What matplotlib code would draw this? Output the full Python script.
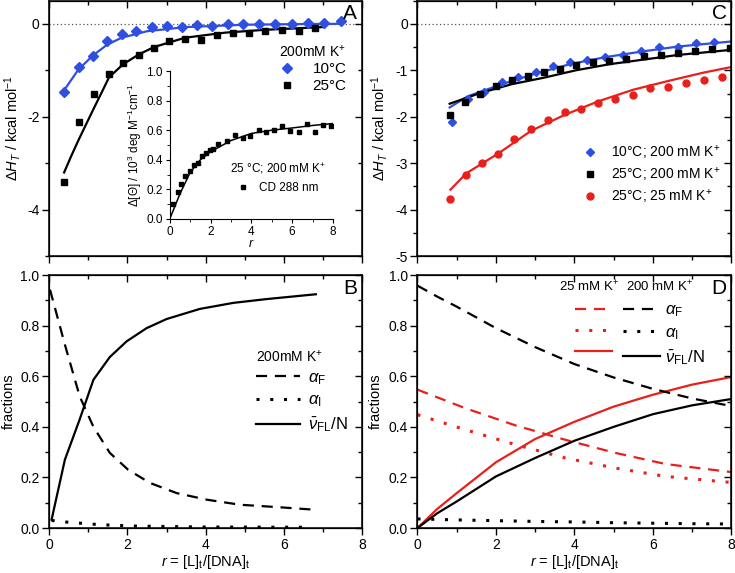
import numpy as np
import matplotlib
matplotlib.use('Agg')
import matplotlib.pyplot as plt
from matplotlib.ticker import MultipleLocator

plt.rcParams['font.family'] = ['Liberation Sans', 'DejaVu Sans']
plt.rcParams['mathtext.fontset'] = 'custom'
plt.rcParams['mathtext.rm'] = 'Liberation Sans'
plt.rcParams['mathtext.it'] = 'Liberation Sans:italic'
plt.rcParams['mathtext.bf'] = 'Liberation Sans:bold'
plt.rcParams['axes.unicode_minus'] = False

# ---------------- panel A : ITC, 200 mM K+ ----------------
rA_10 = [0.38, 0.75, 1.12, 1.48, 1.85, 2.22, 2.62, 3.0, 3.39, 3.77, 4.16, 4.56,
         4.96, 5.37, 5.78, 6.21, 6.62, 7.02, 7.47]
hA_10 = [-1.46, -0.94, -0.70, -0.38, -0.22, -0.15, -0.07, -0.04, -0.06, -0.03,
         -0.04, -0.01, -0.01, 0.0, 0.0, 0.0, 0.01, 0.01, 0.05]
rA_25 = [0.38, 0.75, 1.14, 1.53, 1.89, 2.29, 2.68, 3.07, 3.47, 3.87, 4.28, 4.69,
         5.10, 5.52, 5.95, 6.38, 6.80]
hA_25 = [-3.41, -2.12, -1.51, -1.08, -0.84, -0.67, -0.51, -0.38, -0.33, -0.34,
         -0.24, -0.20, -0.20, -0.16, -0.13, -0.15, -0.09]
fitA_10_r = [0.38, 0.75, 1.12, 1.48, 1.85, 2.5, 3.5, 5.0, 6.5, 7.5]
fitA_10_h = [-1.43, -0.98, -0.68, -0.45, -0.30, -0.16, -0.07, -0.02, -0.005, 0.0]
fitA_25_r = [0.38, 0.56, 0.75, 0.95, 1.14, 1.34, 1.53, 1.89, 2.29, 2.68, 3.47, 4.5, 5.5, 7.0]
fitA_25_h = [-3.20, -2.85, -2.50, -2.15, -1.82, -1.48, -1.15, -0.87, -0.66, -0.50, -0.30,
             -0.19, -0.13, -0.07]

# inset : CD 288 nm
r_cd = [0.16, 0.38, 0.57, 0.77, 0.97, 1.18, 1.38, 1.58, 1.77, 1.97, 2.13, 2.38,
        2.79, 3.2, 3.58, 3.94, 4.35, 4.73, 5.12, 5.52, 5.91, 6.32, 6.73, 7.11,
        7.52, 7.91]
cd = [0.103, 0.18, 0.234, 0.29, 0.324, 0.367, 0.378, 0.428, 0.447, 0.465, 0.476,
      0.506, 0.526, 0.569, 0.546, 0.564, 0.60, 0.587, 0.60, 0.625, 0.596, 0.591,
      0.643, 0.589, 0.636, 0.625]
fit_cd_r = [0.0, 0.5, 1.0, 1.5, 2.0, 3.0, 4.0, 5.0, 6.0, 7.0, 8.0]
fit_cd = [0.0, 0.17, 0.315, 0.40, 0.454, 0.53, 0.578, 0.60, 0.615, 0.632, 0.645]

# ---------------- panel B : fractions, 200 mM K+ ----------------
rB_nu = [0.06, 0.4, 0.78, 1.13, 1.55, 1.98, 2.49, 3.0, 3.85, 4.71, 5.56, 6.82]
B_nu = [0.033, 0.27, 0.43, 0.586, 0.676, 0.738, 0.79, 0.826, 0.866, 0.89, 0.905, 0.924]
rB_aF = [0.02, 0.4, 0.78, 1.13, 1.55, 2.02, 2.58, 3.26, 4.03, 4.88, 5.9, 6.82]
B_aF = [0.942, 0.725, 0.52, 0.40, 0.297, 0.23, 0.178, 0.138, 0.112, 0.092, 0.082, 0.072]
rB_aI = [0.06, 0.4, 1.3, 2.15, 3.85, 6.6]
B_aI = [0.03, 0.024, 0.013, 0.008, 0.004, 0.003]

# ---------------- panel C : ITC ----------------
rC_10 = [0.88, 1.28, 1.70, 2.15, 2.57, 3.02, 3.45, 3.88, 4.33, 4.77, 5.23, 5.69,
         6.15, 6.63, 7.09, 7.56]
hC_10 = [-2.11, -1.62, -1.47, -1.25, -1.15, -1.04, -0.91, -0.83, -0.77, -0.72,
         -0.67, -0.59, -0.50, -0.50, -0.42, -0.40]
rC_25 = [0.82, 1.21, 1.60, 1.99, 2.40, 2.81, 3.22, 3.63, 4.04, 4.46, 4.89, 5.32,
         5.76, 6.20, 6.64, 7.07, 7.51, 7.96]
hC_25 = [-1.96, -1.69, -1.52, -1.34, -1.22, -1.13, -1.04, -0.97, -0.89, -0.83,
         -0.79, -0.75, -0.70, -0.67, -0.63, -0.59, -0.55, -0.52]
rC_25lo = [0.84, 1.24, 1.65, 2.06, 2.47, 2.90, 3.32, 3.75, 4.17, 4.60, 5.04, 5.49,
           5.93, 6.39, 6.83, 7.29, 7.75]
hC_25lo = [-3.78, -3.25, -3.0, -2.80, -2.48, -2.27, -2.06, -1.90, -1.83, -1.71,
           -1.62, -1.53, -1.38, -1.36, -1.27, -1.22, -1.14]
fitC_10_r = [0.82, 1.28, 2.15, 3.02, 3.88, 4.77, 5.69, 6.63, 8.0]
fitC_10_h = [-1.80, -1.56, -1.30, -1.07, -0.87, -0.72, -0.60, -0.49, -0.38]
fitC_25_r = [0.82, 1.6, 2.4, 3.22, 4.04, 4.89, 5.76, 6.64, 8.0]
fitC_25_h = [-1.72, -1.49, -1.30, -1.16, -1.00, -0.87, -0.77, -0.67, -0.56]
fitC_lo_r = [0.84, 1.24, 2.06, 2.90, 3.75, 4.60, 5.49, 6.39, 7.29, 8.0]
fitC_lo_h = [-3.57, -3.22, -2.79, -2.30, -1.96, -1.67, -1.42, -1.23, -1.05, -0.93]

# ---------------- panel D : fractions ----------------
rD = [0, 0.5, 1, 2, 3, 4, 5, 6, 7, 8]
D_nu_25 = [0.0, 0.075, 0.138, 0.26, 0.352, 0.42, 0.48, 0.527, 0.567, 0.597]
D_nu_200 = [0.0, 0.058, 0.105, 0.204, 0.277, 0.345, 0.40, 0.45, 0.485, 0.51]
D_aF_200 = [0.958, 0.915, 0.875, 0.79, 0.715, 0.648, 0.595, 0.55, 0.512, 0.482]
D_aI_200 = [0.036, 0.034, 0.032, 0.029, 0.026, 0.024, 0.021, 0.019, 0.017, 0.016]
rD2 = [0, 1.21, 2.49, 3.76, 5.04, 6.32, 8.0]
D_aF_25 = [0.547, 0.474, 0.406, 0.349, 0.297, 0.253, 0.221]
D_aI_25 = [0.448, 0.389, 0.33, 0.277, 0.237, 0.204, 0.18]

blue = '#2f4fe0'
red = '#e8201c'
dash = (0, (5, 3.5))
dot = (0, (1, 3.5))
FS = 10
aF = r'$\alpha_\mathrm{F}$'
aI = r'$\alpha_\mathrm{I}$'
nuFL = r'$\bar{\nu}_\mathrm{FL}$/N'
xlab = r'$r$ = [L]$_\mathrm{t}$/[DNA]$_\mathrm{t}$'
hlab = r'$\Delta H_T$ / kcal mol$^{-1}$'


def frame(ax):
    ax.tick_params(which='both', direction='out', top=False, right=False,
                   labelsize=FS, pad=2)
    ax.tick_params(which='major', length=5, width=1)
    ax.tick_params(which='minor', length=3, width=1)
    for s in ax.spines.values():
        s.set_linewidth(1.1)
    # inward ticks on top/right
    tw = ax.twinx()
    tw.set_ylim(ax.get_ylim())
    tw.yaxis.set_major_locator(ax.yaxis.get_major_locator())
    tw.yaxis.set_minor_locator(ax.yaxis.get_minor_locator())
    tw.tick_params(which='both', direction='in', labelright=False)
    tw.tick_params(which='major', length=5, width=1)
    tw.tick_params(which='minor', length=3, width=1)
    ty = ax.twiny()
    ty.set_xlim(ax.get_xlim())
    ty.xaxis.set_major_locator(ax.xaxis.get_major_locator())
    ty.xaxis.set_minor_locator(ax.xaxis.get_minor_locator())
    ty.tick_params(which='both', direction='in', labeltop=False)
    ty.tick_params(which='major', length=5, width=1)
    ty.tick_params(which='minor', length=3, width=1)


fig = plt.figure(figsize=(7.35, 5.73), dpi=100)
axA = fig.add_axes([0.067, 0.553, 0.4255, 0.446])
axB = fig.add_axes([0.067, 0.0785, 0.4255, 0.4415])
axC = fig.add_axes([0.568, 0.553, 0.4272, 0.446])
axD = fig.add_axes([0.568, 0.0785, 0.4272, 0.4415])

# ---- A ----
axA.axhline(0, color='#555555', lw=0.9, ls=(0, (1, 2)))
axA.plot(fitA_10_r, fitA_10_h, color=blue, lw=1.6)
axA.plot(fitA_25_r, fitA_25_h, color='black', lw=1.6)
axA.plot(rA_10, hA_10, 'D', color=blue, ms=5, ls='none', label='10°C')
axA.plot(rA_25, hA_25, 's', color='black', ms=5, ls='none', label='25°C')
axA.set_xlim(0, 8)
axA.set_ylim(-5, 0.5)
axA.xaxis.set_major_locator(MultipleLocator(2))
axA.xaxis.set_minor_locator(MultipleLocator(1))
axA.yaxis.set_major_locator(MultipleLocator(2))
axA.yaxis.set_minor_locator(MultipleLocator(1))
axA.set_xticklabels([])
axA.set_ylabel(hlab, fontsize=FS + 0.5, labelpad=3)
axA.legend(loc='upper right', bbox_to_anchor=(0.985, 0.875), frameon=False,
           title=r'200mM K$^{+}$', fontsize=FS + 1, title_fontsize=FS,
           handlelength=1.0, handletextpad=1.2, labelspacing=0.2, borderpad=0.2)
axA.text(0.985, 0.985, 'A', transform=axA.transAxes, ha='right', va='top', fontsize=15)
frame(axA)

# inset
axI = fig.add_axes([0.231, 0.618, 0.222, 0.258])
axI.patch.set_alpha(0)
axI.plot(fit_cd_r, fit_cd, color='black', lw=1.1)
axI.plot(r_cd, cd, 's', color='black', ms=2.6, ls='none', label='CD 288 nm')
axI.set_xlim(0, 8)
axI.set_ylim(0, 1.0)
axI.xaxis.set_major_locator(MultipleLocator(2))
axI.xaxis.set_minor_locator(MultipleLocator(1))
axI.yaxis.set_major_locator(MultipleLocator(0.2))
axI.yaxis.set_minor_locator(MultipleLocator(0.1))
axI.spines['top'].set_visible(False)
axI.spines['right'].set_visible(False)
axI.tick_params(which='both', direction='out', labelsize=8.5, pad=2)
axI.tick_params(which='major', length=3)
axI.tick_params(which='minor', length=2)
axI.set_xlabel(r'$r$', fontsize=9, labelpad=0)
axI.set_ylabel(r'$\Delta$[$\Theta$] / 10$^3$ deg M$^{-1}$cm$^{-1}$', fontsize=8.5, labelpad=2)
axI.legend(loc='lower right', bbox_to_anchor=(1.0, 0.12), frameon=False,
           title=r'25 °C; 200 mM K$^{+}$', fontsize=8.5, title_fontsize=8.5,
           handlelength=1.0, handletextpad=0.8, borderpad=0.1)

# ---- B ----
axB.plot(rB_aF, B_aF, color='black', lw=1.6, ls=dash, label=aF)
axB.plot(rB_aI, B_aI, color='black', lw=2.2, ls=dot, label=aI)
axB.plot(rB_nu, B_nu, color='black', lw=1.6, label=nuFL)
axB.set_xlim(0, 8)
axB.set_ylim(0, 1.0)
axB.xaxis.set_major_locator(MultipleLocator(2))
axB.xaxis.set_minor_locator(MultipleLocator(1))
axB.yaxis.set_major_locator(MultipleLocator(0.2))
axB.yaxis.set_minor_locator(MultipleLocator(0.1))
axB.set_ylabel('fractions', fontsize=FS + 0.5, labelpad=3)
axB.set_xlabel(xlab, fontsize=FS + 0.5, labelpad=1)
legB = axB.legend(loc='upper left', bbox_to_anchor=(0.63, 0.75), frameon=False,
                  title=r'200mM K$^{+}$', fontsize=FS + 2, title_fontsize=FS,
                  handlelength=2.6, handletextpad=0.5, labelspacing=0.35, borderpad=0.1)
legB._legend_box.align = 'left'
axB.text(0.985, 0.985, 'B', transform=axB.transAxes, ha='right', va='top', fontsize=15)
frame(axB)

# ---- C ----
axC.axhline(0, color='#555555', lw=0.9, ls=(0, (1, 2)))
axC.plot(fitC_10_r, fitC_10_h, color=blue, lw=1.6)
axC.plot(fitC_25_r, fitC_25_h, color='black', lw=1.6)
axC.plot(fitC_lo_r, fitC_lo_h, color=red, lw=1.6)
axC.plot(rC_10, hC_10, 'D', color=blue, ms=4.5, ls='none', label=r'10°C; 200 mM K$^{+}$')
axC.plot(rC_25, hC_25, 's', color='black', ms=4.5, ls='none', label=r'25°C; 200 mM K$^{+}$')
axC.plot(rC_25lo, hC_25lo, 'o', color=red, ms=5, ls='none', label=r'25°C; 25 mM K$^{+}$')
axC.set_xlim(0, 8)
axC.set_ylim(-5, 0.5)
axC.xaxis.set_major_locator(MultipleLocator(2))
axC.xaxis.set_minor_locator(MultipleLocator(1))
axC.yaxis.set_major_locator(MultipleLocator(1))
axC.yaxis.set_minor_locator(MultipleLocator(0.5))
axC.set_xticklabels([])
axC.set_ylabel(hlab, fontsize=FS + 0.5, labelpad=4)
axC.legend(loc='upper left', bbox_to_anchor=(0.5, 0.475), frameon=False,
           fontsize=FS, handlelength=1.0, handletextpad=1.0,
           labelspacing=0.3, borderpad=0.1)
axC.text(0.985, 0.985, 'C', transform=axC.transAxes, ha='right', va='top', fontsize=15)
frame(axC)

# ---- D ----
l1, = axD.plot(rD2, D_aF_25, color=red, lw=1.6, ls=dash)
l2, = axD.plot(rD2, D_aI_25, color=red, lw=2.2, ls=dot)
l3, = axD.plot(rD, D_nu_25, color=red, lw=1.6)
l4, = axD.plot(rD, D_aF_200, color='black', lw=1.6, ls=dash)
l5, = axD.plot(rD, D_aI_200, color='black', lw=2.2, ls=dot)
l6, = axD.plot(rD, D_nu_200, color='black', lw=1.6)
axD.set_xlim(0, 8)
axD.set_ylim(0, 1.0)
axD.xaxis.set_major_locator(MultipleLocator(2))
axD.xaxis.set_minor_locator(MultipleLocator(1))
axD.yaxis.set_major_locator(MultipleLocator(0.2))
axD.yaxis.set_minor_locator(MultipleLocator(0.1))
axD.set_ylabel('fractions', fontsize=FS + 0.5, labelpad=4)
axD.set_xlabel(xlab, fontsize=FS + 0.5, labelpad=1)
axD.legend([l1, l2, l3, l4, l5, l6], ['', '', '', aF, aI, nuFL],
           ncol=2, loc='upper left', bbox_to_anchor=(0.47, 0.93), frameon=False,
           fontsize=FS + 2, handlelength=2.2, handletextpad=0.3, columnspacing=0.4,
           labelspacing=0.35, borderpad=0.1)
axD.text(0.45, 0.955, r'25 mM K$^{+}$', transform=axD.transAxes, fontsize=FS - 0.5, va='center')
axD.text(0.665, 0.955, r'200 mM K$^{+}$', transform=axD.transAxes, fontsize=FS - 0.5, va='center')
axD.text(0.985, 0.985, 'D', transform=axD.transAxes, ha='right', va='top', fontsize=15)
frame(axD)

fig.savefig('out.png', dpi=100)
